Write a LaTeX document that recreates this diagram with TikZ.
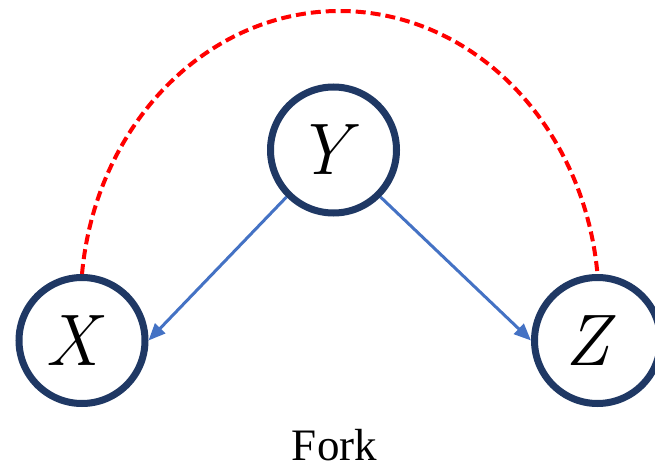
\documentclass[tikz,border=0pt]{standalone}
\usepackage{fontspec}
\newfontfamily\captionfont{Liberation Serif}
\usetikzlibrary{arrows.meta}

\definecolor{ringblue}{HTML}{1F3864}
\definecolor{edgeblue}{HTML}{4472C4}
\definecolor{linkred}{HTML}{FF0000}

% italic letter, nudged a little left inside its ring
\newcommand{\varname}[1]{\kern-20pt#1}

\tikzset{
  var/.style={circle, draw=ringblue, line width=7pt, fill=white,
    minimum size=126pt, inner sep=0pt,
    font=\fontsize{73}{73}\selectfont\itshape},
  causal/.style={draw=edgeblue, line width=3pt,
    -{Triangle[length=17pt,width=14pt]}},
  confound/.style={draw=linkred, line width=4pt,
    dash pattern=on 10pt off 5pt},
  caption/.style={font=\captionfont\fontsize{45}{45}\selectfont}
}

\begin{document}
\begin{tikzpicture}[x=1pt,y=1pt]
  \useasboundingbox (0,0) rectangle (655,469);

  % variables
  \node[var] (Y) at (333.5,319) {\varname{Y}};
  \node[var] (X) at (82,128.5) {\varname{X}};
  \node[var] (Z) at (597.5,128.5) {\varname{Z}};

  % hidden common link between X and Z
  \draw[confound] (X.north)
    arc[start angle=174.12, end angle=5.88, x radius=259.1pt, y radius=293pt];

  % fork edges
  \draw[causal] (Y.south west) -- (X.east);
  \draw[causal] (Y.south east) -- (Z.west);

  \node[caption, anchor=base] (cap) at (334.5,9) {Fork};
\end{tikzpicture}
\end{document}
